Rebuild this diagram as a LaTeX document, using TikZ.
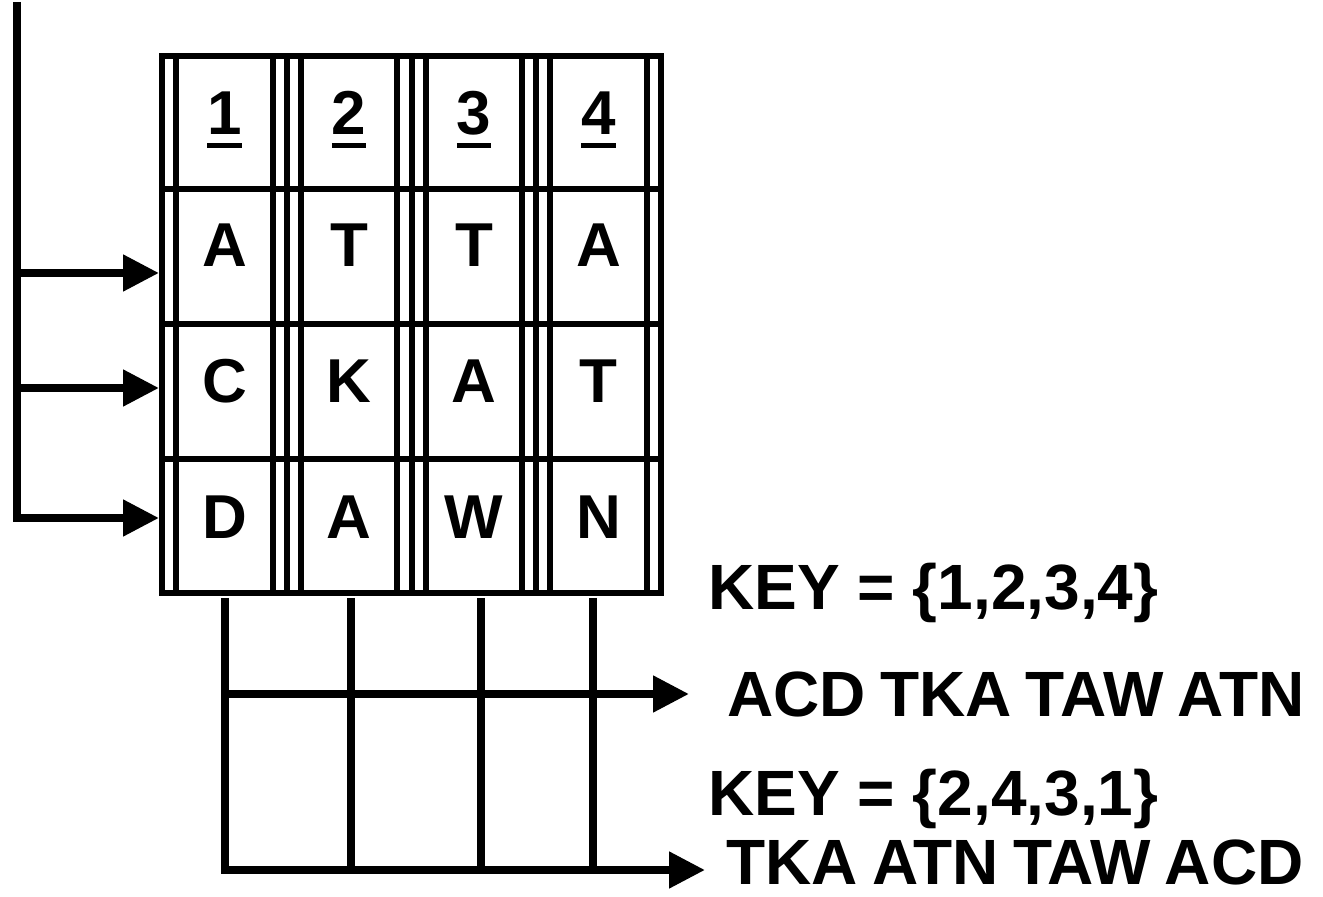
\documentclass[tikz,border=0pt]{standalone}
\usepackage{fontspec}
\setmainfont{Liberation Sans}
\newfontfamily\orderfont{Liberation Sans}[WordSpace=0.8]
\usetikzlibrary{arrows.meta}
\newsavebox\numbox
\newcommand{\colnum}[1]{\sbox\numbox{#1}\rlap{\rule[-6.5pt]{\wd\numbox}{2.5pt}}\usebox\numbox}
\tikzset{
  gridline/.style={line width=3pt},
  railline/.style={line width=4pt},
  feed/.style={railline,-{Triangle[length=18pt,width=17.5pt]}},
  celltext/.style={font=\bfseries\fontsize{31}{36}\selectfont,anchor=base,inner sep=0pt},
  keytext/.style={font=\bfseries\fontsize{32}{36}\selectfont,anchor=base west,inner sep=0pt,text depth=0pt},
  ordertext/.style={keytext,font=\orderfont\bfseries\fontsize{32}{36}\selectfont}
}
\begin{document}
\begin{tikzpicture}[x=0.5pt,y=-0.5pt]
\useasboundingbox (0,0) rectangle (1323,897);
% the table
\node[gridline,draw,inner sep=0pt,minimum width=249.5pt,minimum height=268.75pt] (grid) at (411.5,324.75) {};
\draw[gridline] (175.5,56) -- (175.5,593.5);
\draw[gridline] (272.5,56) -- (272.5,593.5);
\draw[gridline] (286.5,56) -- (286.5,593.5);
\draw[gridline] (300.5,56) -- (300.5,593.5);
\draw[gridline] (397,56) -- (397,593.5);
\draw[gridline] (411.5,56) -- (411.5,593.5);
\draw[gridline] (425.5,56) -- (425.5,593.5);
\draw[gridline] (522,56) -- (522,593.5);
\draw[gridline] (536,56) -- (536,593.5);
\draw[gridline] (550,56) -- (550,593.5);
\draw[gridline] (646.5,56) -- (646.5,593.5);
\draw[gridline] (162,189.5) -- (661,189.5);
\draw[gridline] (162,324.5) -- (661,324.5);
\draw[gridline] (162,459.5) -- (661,459.5);
\node[celltext] (head-1) at (224.5,135) {\colnum{1}};
\node[celltext] (head-2) at (349,135) {\colnum{2}};
\node[celltext] (head-3) at (474,135) {\colnum{3}};
\node[celltext] (head-4) at (598.5,135) {\colnum{4}};
\node[celltext] (cell-1-1) at (224.5,267) {A};
\node[celltext] (cell-1-2) at (349,267) {T};
\node[celltext] (cell-1-3) at (474,267) {T};
\node[celltext] (cell-1-4) at (598.5,267) {A};
\node[celltext] (cell-2-1) at (224.5,403) {C};
\node[celltext] (cell-2-2) at (349,403) {K};
\node[celltext] (cell-2-3) at (474,403) {A};
\node[celltext] (cell-2-4) at (598.5,403) {T};
\node[celltext] (cell-3-1) at (224.5,539) {D};
\node[celltext] (cell-3-2) at (349,539) {A};
\node[celltext] (cell-3-3) at (474,539) {W};
\node[celltext] (cell-3-4) at (598.5,539) {N};
% rows fed in from the left
\coordinate (rail-top) at (17,2);
\coordinate (rail-a) at (17,273);
\coordinate (rail-b) at (17,388);
\coordinate (rail-c) at (17,518);
\draw[feed] (rail-top) -- (rail-c) -- (rail-c -| grid.west);
\draw[feed] (rail-a) -- (rail-a -| grid.west);
\draw[feed] (rail-b) -- (rail-b -| grid.west);
% columns read out below
\coordinate (tap-a) at (225,694);
\coordinate (out-a) at (689,694);
\coordinate (out-b) at (705,870);
\draw[feed] (225,598) -- (225,870) -- (out-b);
\draw[railline] (351,598) -- (351,870);
\draw[railline] (481,598) -- (481,870);
\draw[railline] (593,598) -- (593,870);
\draw[feed] (tap-a) -- (out-a);
\node[keytext] (key-a) at (708,610) {KEY = \{1,2,3,4\}};
\node[ordertext] (order-a) at (727,717) {ACD TKA TAW ATN};
\node[keytext] (key-b) at (708,815) {KEY = \{2,4,3,1\}};
\node[ordertext] (order-b) at (726,884) {TKA ATN TAW ACD};
\end{tikzpicture}
\end{document}
